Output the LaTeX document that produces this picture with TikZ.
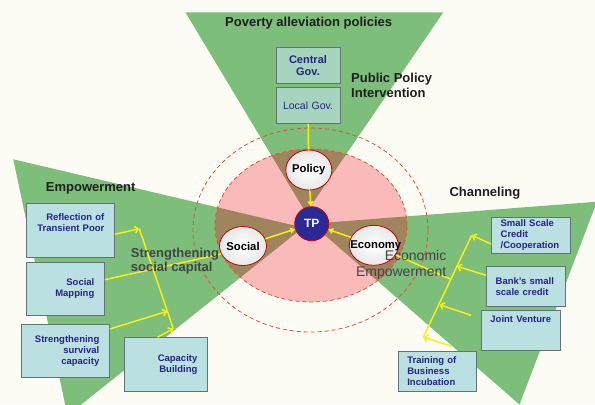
\documentclass[tikz,border=0pt]{standalone}
\usepackage{fontspec}
\setmainfont{Liberation Sans}
\usetikzlibrary{shapes.geometric,arrows.meta}

\definecolor{paper}{RGB}{252,252,245}
\definecolor{wedgegreen}{RGB}{124,190,122}
\definecolor{diskpink}{RGB}{250,186,186}
\definecolor{sectorbrown}{RGB}{160,132,94}
\definecolor{ringred}{RGB}{232,78,48}
\definecolor{linkyellow}{RGB}{250,238,20}
\definecolor{tpblue}{RGB}{42,42,150}
\definecolor{boxcyan}{RGB}{186,224,226}
\definecolor{boxmint}{RGB}{166,212,190}
\definecolor{boxedge}{RGB}{96,116,118}
\definecolor{boxtext}{RGB}{36,36,132}
\definecolor{labelgray}{RGB}{68,68,68}

\tikzset{
  bubble/.style={ellipse, draw=red!75!black, line width=0.8bp, inner color=white, outer color=gray!18,
    inner sep=0pt, font=\fontsize{11.3bp}{12bp}\selectfont\bfseries},
  hub/.style={circle, draw=red!80!black, line width=0.8bp, fill=tpblue, text=white, minimum size=34bp,
    inner sep=0pt, font=\fontsize{12bp}{13bp}\selectfont\bfseries},
  leftbox/.style={draw=boxedge, line width=0.9bp, fill=boxcyan, text=boxtext, align=right,
    inner xsep=10bp, inner ysep=0pt, font=\fontsize{9.5bp}{10.8bp}\selectfont\bfseries},
  rightbox/.style={leftbox, align=left, inner xsep=9bp},
  govbox/.style={leftbox, fill=boxmint, align=center, inner xsep=4bp, minimum width=64bp,
    text width=56bp, minimum height=36bp},
  spine/.style={linkyellow, line width=1.5bp},
  feed/.style={spine, -{Straight Barb[length=3.5bp,width=7bp]}},
  intohub/.style={spine, -{Triangle[length=5bp,width=6bp]}},
  ring/.style={ringred, line width=0.8bp, dash pattern=on 4bp off 3bp},
  heading/.style={inner sep=0pt, text=black!88, font=\fontsize{13bp}{15bp}\selectfont\bfseries},
}

\begin{document}
\begin{tikzpicture}[x=1bp, y=-1bp]
    % canvas
    \useasboundingbox (0,0) rectangle (595,404);
    \clip (0,0) rectangle (595,404);
    \fill[paper] (0,0) rectangle (595,404);

    % green wedges
    \fill[wedgegreen] (306.0, 213.0) -- (185.4,  12.3) -- (443.3,  12.3) -- cycle;
    \fill[wedgegreen] (303.0, 227.5) -- ( 13.3, 159.3) -- ( 67.5, 415.5) -- cycle;
    \fill[wedgegreen] (311.7, 223.7) -- (597.0, 201.7) -- (519.5, 404.5) -- cycle;

    % pink disk with brown sectors
    \fill[diskpink] (311,225.5) ellipse [x radius=96bp, y radius=76.5bp];
    \begin{scope}
        \clip (311,225.5) ellipse [x radius=96bp, y radius=76.5bp];
        \fill[sectorbrown] (306.0, 213.0) -- (185.4,  12.3) -- (443.3,  12.3) -- cycle;
        \fill[sectorbrown] (303.0, 227.5) -- ( 13.3, 159.3) -- ( 67.5, 415.5) -- cycle;
        \fill[sectorbrown] (311.7, 223.7) -- (597.0, 201.7) -- (519.5, 404.5) -- cycle;
    \end{scope}

    % dashed rings
    \draw[ring] (311.0,225.5) ellipse [x radius=96bp, y radius=76.5bp];
    \draw[ring] (310.5,230.0) ellipse [x radius=117.5bp, y radius=102bp];

    % centre
    \node[hub] (tp) at (311.7,223.7) {TP};
    \node[bubble, minimum width=46bp, minimum height=40bp] (policy)  at (308.8,170.0) {\makebox[0pt]{Policy}};
    \node[bubble, minimum width=47bp, minimum height=39bp] (social)  at (243.0,246.0) {\makebox[0pt]{Social}};
    \node[bubble, minimum width=49bp, minimum height=40bp] (economy) at (373.8,245.3) {\makebox[0pt]{\hspace*{4bp}Economy}};

    % government boxes
    \node[govbox, font=\fontsize{11bp}{11.7bp}\selectfont\bfseries] (central) at (308,65.3) {Central\\Gov.};
    \node[govbox, font=\fontsize{10.5bp}{12bp}\selectfont] (local) at (308,105.3) {Local Gov.};

    % social boxes
    \node[leftbox, text width=68.3bp, minimum height=53.3bp] (reflect)  at ( 70.2,230.3) {Reflection of\\Transient Poor\\[5bp]\mbox{}};
    \node[leftbox, text width=58.3bp, minimum height=53.3bp] (mapping)  at ( 65.2,288.7) {Social\\Mapping};
    \node[leftbox, text width=67.6bp, minimum height=53.4bp] (survival) at ( 65.5,351.0) {Strengthening\\survival\\capacity};
    \node[leftbox, text width=63.3bp, minimum height=53.3bp] (capacity) at (165.7,364.3) {Capacity\\Building};

    % economy boxes
    \node[rightbox, text width=60.3bp, minimum height=36bp] (smallcredit) at (530.8,235.0) {Small Scale\\Credit\\/Cooperation};
    \node[rightbox, text width=60.3bp, minimum height=40bp] (bankcredit)  at (525.8,286.3) {Bank's small\\scale credit};
    \node[rightbox, align=center, inner xsep=4bp, text width=70.3bp, minimum height=40bp] (venture) at (520.8,330.3) {Joint Venture\\[12bp]\mbox{}};
    \node[rightbox, text width=60.4bp, minimum height=40bp] (incubation)  at (437.5,371.0) {Training of\\Business\\Incubation};

    % brackets
    \coordinate (socialtop) at (139.3,228.7);
    \coordinate (socialmid) at (167.2,311.3);
    \coordinate (socialbot) at (173.3,328.7);
    \coordinate (econtop)   at (471.7,235.3);
    \coordinate (econbank)  at (457.0,266.3);
    \coordinate (econhub)   at (450.9,279.3);
    \coordinate (econjoint) at (439.5,304.7);
    \coordinate (econbot)   at (423.3,337.0);
    \draw[spine] (socialtop) -- (socialbot);
    \draw[spine] (econtop) -- (econbot);

    % feeds into brackets
    \draw[feed] ([yshift=-4bp]reflect.east) -- (socialtop);
    \draw[feed] ([yshift=22bp]survival.east) -- (socialmid);
    \draw[feed] ([xshift=34bp]capacity.north west) -- (socialbot);
    \draw[spine] ([yshift=9bp]mapping.east) -- (social.200);
    \draw[feed] ([yshift=-9bp]smallcredit.west) -- (econtop);
    \draw[feed] ([yshift=11bp]bankcredit.west) -- (econbank);
    \draw[feed] ([xshift=-10bp,yshift=15bp]venture.west) -- (econjoint);
    \draw[feed] ([xshift=-25bp,yshift=4bp]incubation.north east) -- (econbot);
    \draw[spine] (economy) -- (econhub);

    % links to TP
    \draw[spine] (local) -- (policy);
    \draw[intohub] (policy) -- (tp);
    \draw[intohub] (social) -- (tp);
    \draw[intohub] (economy) -- (tp);

    % labels
    \node[heading, anchor=base west] (povertytitle) at (225.0, 26.0) {Poverty alleviation policies};
    \node[heading, anchor=base west, align=left] (publicpolicy) at (351.0, 97.3) {Public Policy\\Intervention};
    \node[heading, anchor=base west] (empowerlabel) at ( 45.7,191.5) {Empowerment};
    \node[heading, anchor=base west] (channellabel) at (449.3,196.0) {Channeling};
    \node[heading, anchor=base west, align=left, text=labelgray, font=\fontsize{13bp}{14.3bp}\selectfont\bfseries]
        (capitallabel) at (130.7,271.7) {Strengthening\\social capital};
    \node[heading, anchor=base east, align=right, text=labelgray, font=\fontsize{14bp}{15.7bp}\selectfont]
        (economiclabel) at (446.5,276.0) {Economic\\Empowerment};
\end{tikzpicture}
\end{document}
